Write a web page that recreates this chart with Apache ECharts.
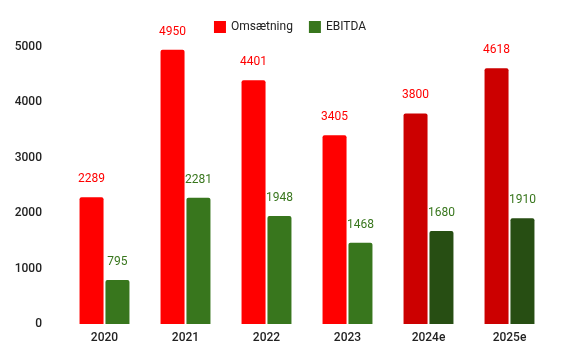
<!DOCTYPE html>
<html><head><meta charset="utf-8">
<script src="https://cdn.jsdelivr.net/npm/echarts@6/dist/echarts.min.js"></script>
<style>html,body{margin:0;padding:0;background:#fff}#c{width:580px;height:360px}</style>
</head><body><div id="c"></div>
<script>
var categories = ['2020','2021','2022','2023','2024e','2025e'];
var omsaetning = [2289, 4950, 4401, 3405, 3800, 4618];
var ebitda = [795, 2281, 1948, 1468, 1680, 1910];
var estimated = [false, false, false, false, true, true];
var yTicks = [0, 1000, 2000, 3000, 4000, 5000];

var redC = '#ff0000', redDark = '#cc0000', greenC = '#38761d', greenDark = '#274e13';
function mk(vals, c, cd) {
  return vals.map(function (v, i) {
    return { value: v, itemStyle: { color: estimated[i] ? cd : c } };
  });
}
var chart = echarts.init(document.getElementById('c'), null, { renderer: 'canvas' });
chart.setOption({
  animation: false,
  textStyle: { fontFamily: 'Roboto' },
  legend: {
    top: 16, left: 'center', itemWidth: 12, itemHeight: 12, itemGap: 16,
    icon: 'rect',
    textStyle: { fontSize: 12, color: '#222', fontFamily: 'Roboto' },
    data: [{ name: 'Omsætning', itemStyle: { color: redC } }, { name: 'EBITDA', itemStyle: { color: greenC } }]
  },
  grid: { left: 64, right: 30, top: 47, bottom: 36, containLabel: false },
  xAxis: {
    type: 'category', data: categories,
    axisLine: { show: false }, axisTick: { show: false },
    axisLabel: { color: '#222', fontSize: 12, margin: 8, fontWeight: 500 }
  },
  yAxis: {
    type: 'value', min: 0, max: 5000, interval: 1000,
    splitLine: { show: false },
    axisLabel: { color: '#222', fontSize: 12, margin: 22, fontWeight: 500,
      formatter: function (v) { return yTicks.indexOf(v) >= 0 ? String(v) : ''; } }
  },
  series: [
    { name: 'Omsætning', type: 'bar', data: mk(omsaetning, redC, redDark),
      barWidth: 24, barGap: '8%', barCategoryGap: '38%',
      itemStyle: { borderRadius: [2, 2, 0, 0] },
      label: { show: true, position: 'top', distance: 12, color: redC, fontSize: 12 } },
    { name: 'EBITDA', type: 'bar', data: mk(ebitda, greenC, greenDark),
      barWidth: 24, barGap: '8%',
      itemStyle: { borderRadius: [2, 2, 0, 0] },
      label: { show: true, position: 'top', distance: 12, color: greenC, fontSize: 12 } }
  ]
});
</script></body></html>
